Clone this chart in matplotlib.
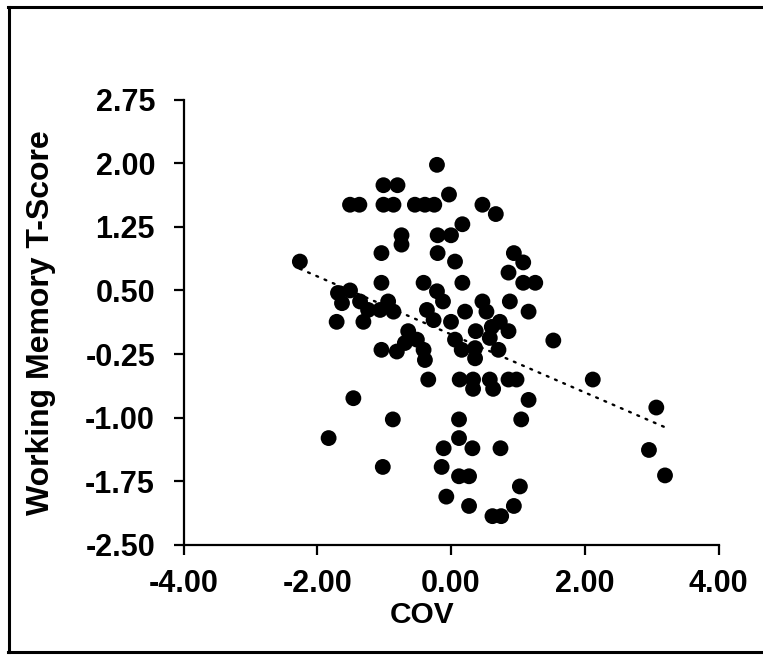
import numpy as np
import matplotlib
matplotlib.use("Agg")
import matplotlib.pyplot as plt
from matplotlib.lines import Line2D

plt.rcParams['font.family'] = ['Liberation Sans', 'DejaVu Sans']
plt.rcParams['font.weight'] = 'bold'

cov = [-0.21, -1.01, -0.80, -1.51, -1.37, -1.01, -0.86, -0.54, -0.39, -0.25,
       -0.03, 0.47, 0.67, 0.17, -0.74, -0.74, -1.04, -0.20, 0.00, -0.20,
       0.06, 0.94, 1.08, 0.86, -2.26, 1.08, 1.26, 0.17, -1.04, -0.41,
       -1.69, -1.51, -1.63, -1.36, -1.24, -1.06, -0.94, -0.86, -1.71, -1.31,
       -0.36, -0.26, -0.21, -0.12, 0.00, -0.64, -0.69, -0.51, -0.41, -0.39,
       -1.04, -0.81, -0.34,
       0.06, 0.16, 0.36, 0.36, 0.58, 0.71, 0.37, 0.61, 0.73, 0.86,
       0.53, 0.21, 0.47, 0.88, 1.16,
       0.13, 0.33, 0.58, 0.86, 0.98, 0.33, 0.63,
       1.16, -1.46, -0.87, -1.83, -1.02, 0.12, 1.05, 0.12, -0.11, 0.32,
       0.74, -0.14, 0.12, 0.27, 1.03, -0.07, 0.27, 0.94, 0.62, 0.75,
       1.53, 2.12, 3.07, 2.96, 3.20]
wm = [1.98, 1.74, 1.74, 1.51, 1.51, 1.51, 1.51, 1.51, 1.51, 1.51,
      1.63, 1.51, 1.40, 1.28, 1.15, 1.04, 0.94, 1.15, 1.15, 0.94,
      0.84, 0.94, 0.83, 0.71, 0.84, 0.59, 0.59, 0.59, 0.59, 0.59,
      0.47, 0.50, 0.35, 0.37, 0.27, 0.27, 0.37, 0.25, 0.13, 0.13,
      0.27, 0.15, 0.49, 0.37, 0.13, 0.02, -0.12, -0.08, -0.20, -0.32,
      -0.20, -0.22, -0.55,
      -0.08, -0.20, -0.18, -0.30, -0.06, -0.20, 0.02, 0.07, 0.13, 0.02,
      0.25, 0.25, 0.37, 0.37, 0.25,
      -0.55, -0.55, -0.55, -0.55, -0.55, -0.66, -0.66,
      -0.79, -0.77, -1.02, -1.24, -1.58, -1.02, -1.02, -1.24, -1.36, -1.36,
      -1.36, -1.58, -1.69, -1.69, -1.81, -1.93, -2.04, -2.04, -2.16, -2.16,
      -0.09, -0.55, -0.88, -1.38, -1.68]

# linear trend line
trend_intercept = -0.018
trend_slope = -0.342

x_ticks = [-4.0, -2.0, 0.0, 2.0, 4.0]
y_ticks = [-2.50, -1.75, -1.00, -0.25, 0.50, 1.25, 2.00, 2.75]
x_label = "COV"
y_label = "Working Memory T-Score"

W, H, DPI = 763, 656, 100
fig = plt.figure(figsize=(W / DPI, H / DPI), dpi=DPI)
ax = fig.add_axes([183.5 / W, 1 - 545 / H, (718.5 - 183.5) / W, (545 - 99.5) / H])

ax.scatter(cov, wm, s=130, color='black', edgecolors='none', zorder=3)

xa = np.array(cov)
xs = np.array([xa.min(), xa.max()])
ax.plot(xs, trend_intercept + trend_slope * xs, color='black', lw=1.7,
        linestyle=(0, (0.8, 3.0)), dash_capstyle='round', zorder=2)

ax.set_xlim(-4, 4)
ax.set_ylim(-2.5, 2.75)
ax.set_xticks(x_ticks)
ax.set_yticks(y_ticks)
ax.set_xticklabels([f"{v:.2f}" for v in x_ticks])
ax.set_yticklabels([f"{v:.2f}" for v in y_ticks])

for s in ['top', 'right']:
    ax.spines[s].set_visible(False)
for s in ['left', 'bottom']:
    ax.spines[s].set_linewidth(1.6)
ax.tick_params(axis='both', direction='out', length=7.5, width=1.6, labelsize=22)
ax.tick_params(axis='y', pad=13)
ax.tick_params(axis='x', pad=10)
for lab in ax.get_xticklabels() + ax.get_yticklabels():
    lab.set_fontweight('bold')

ax.set_xlabel(x_label, fontsize=21.5, fontweight='bold', labelpad=3)
ax.xaxis.set_label_coords((422 - 183.5) / 535, -0.125)
ax.set_ylabel(y_label, fontsize=23, fontweight='bold', labelpad=21)

# figure frame (left, top, bottom)
fig.add_artist(Line2D([9 / W, 9 / W], [1 - 7 / H, 1 - 652 / H], color='black', lw=2.2,
                      transform=fig.transFigure))
fig.add_artist(Line2D([8 / W, 1.0], [1 - 7 / H, 1 - 7 / H], color='black', lw=2.2,
                      transform=fig.transFigure))
fig.add_artist(Line2D([8 / W, 1.0], [1 - 652 / H, 1 - 652 / H], color='black', lw=2.2,
                      transform=fig.transFigure))

fig.savefig("out.png", dpi=DPI)
